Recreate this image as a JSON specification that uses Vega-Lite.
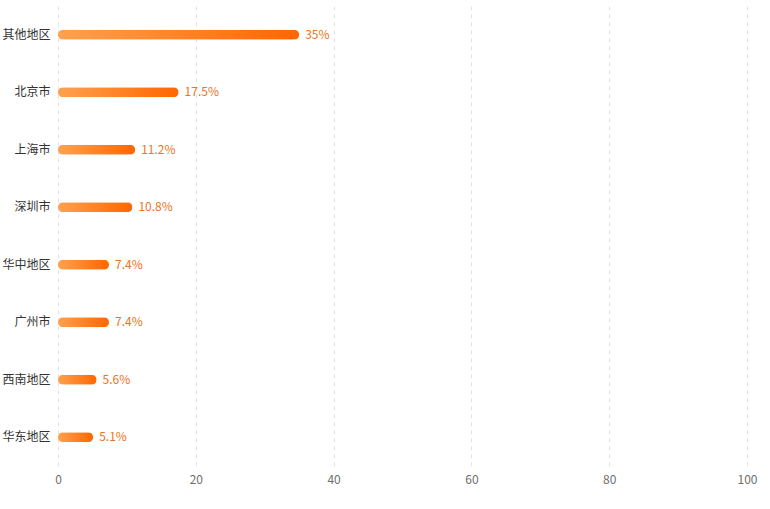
{
  "$schema": "https://vega.github.io/schema/vega-lite/v6.json",
  "width": 689,
  "height": 460,
  "autosize": {"type": "none"},
  "padding": {"left": 58, "top": 6, "right": 23, "bottom": 43},
  "background": "#ffffff",
  "config": {
    "view": {"stroke": null},
    "font": "Noto Sans CJK SC"
  },
  "data": {
    "values": [
      {"region": "其他地区", "value": 35, "label": "35%"},
      {"region": "北京市", "value": 17.5, "label": "17.5%"},
      {"region": "上海市", "value": 11.2, "label": "11.2%"},
      {"region": "深圳市", "value": 10.8, "label": "10.8%"},
      {"region": "华中地区", "value": 7.4, "label": "7.4%"},
      {"region": "广州市", "value": 7.4, "label": "7.4%"},
      {"region": "西南地区", "value": 5.6, "label": "5.6%"},
      {"region": "华东地区", "value": 5.1, "label": "5.1%"}
    ]
  },
  "encoding": {
    "y": {
      "field": "region",
      "type": "nominal",
      "sort": null,
      "title": null,
      "axis": {
        "domain": false,
        "ticks": false,
        "labelPadding": 8,
        "labelColor": "#333333",
        "labelFontSize": 12,
        "labelFont": "Noto Sans CJK SC"
      }
    },
    "x": {
      "field": "value",
      "type": "quantitative",
      "scale": {"domain": [0, 100]},
      "title": null,
      "axis": {
        "domain": false,
        "ticks": false,
        "values": [0, 20, 40, 60, 80, 100],
        "grid": true,
        "gridDash": [4, 4],
        "gridColor": "#e3e3e3",
        "labelFlush": false,
        "labelPadding": 8,
        "labelColor": "#6e6e6e",
        "labelFontSize": 12,
        "labelFont": "Noto Sans CJK SC"
      }
    }
  },
  "layer": [
    {
      "mark": {
        "type": "bar",
        "size": 10,
        "cornerRadius": 5,
        "color": {
          "gradient": "linear",
          "x1": 0, "y1": 0, "x2": 1, "y2": 0,
          "stops": [
            {"offset": 0, "color": "#FFA14F"},
            {"offset": 1, "color": "#FF6600"}
          ]
        }
      }
    },
    {
      "mark": {
        "type": "text",
        "align": "left",
        "baseline": "middle",
        "dx": 6,
        "fontSize": 12,
        "color": "#EC7420",
        "font": "Noto Sans CJK SC"
      },
      "encoding": {
        "text": {"field": "label"}
      }
    }
  ]
}
